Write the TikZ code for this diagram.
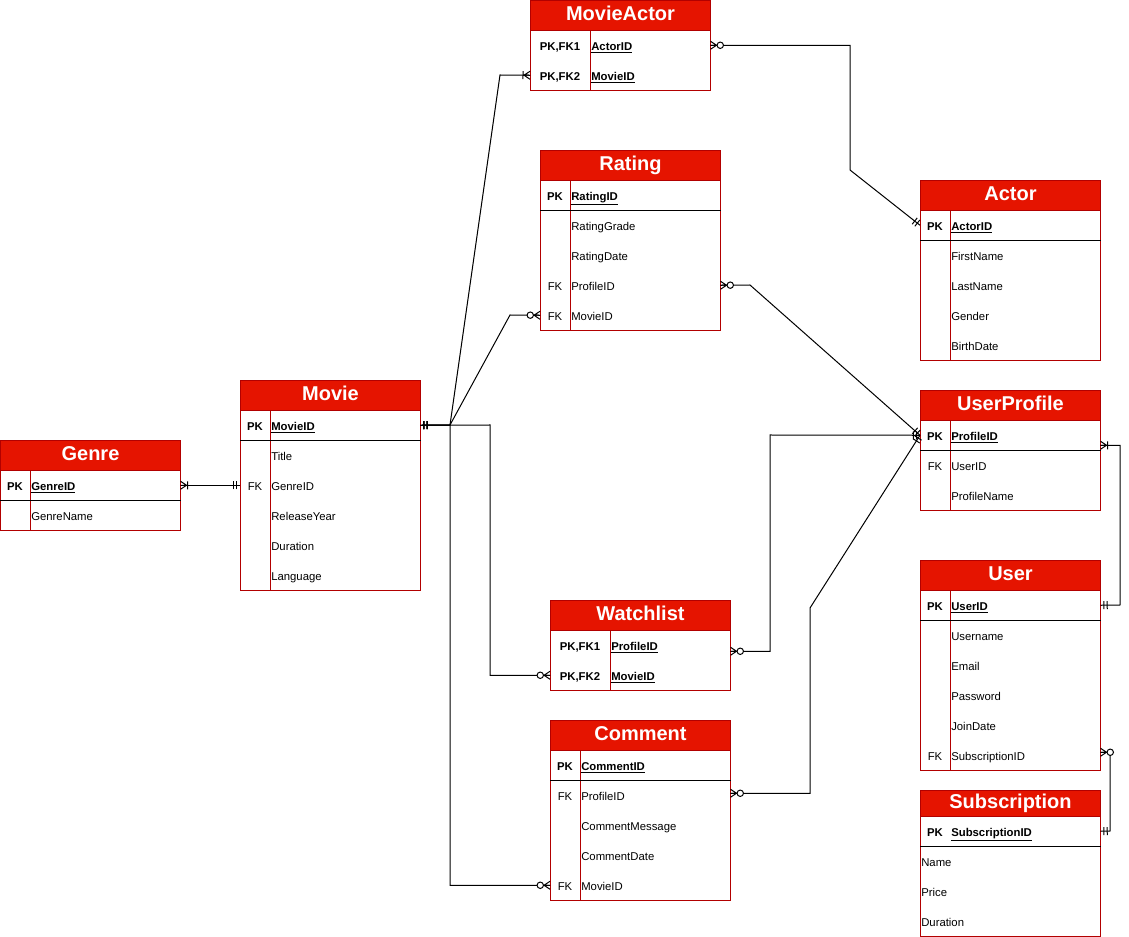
\documentclass[tikz,border=0pt]{standalone}
\usepackage{fontspec}
\setmainfont{Liberation Sans}
\usetikzlibrary{decorations.markings}

\definecolor{erred}{HTML}{E51400}
\definecolor{erborder}{HTML}{B20000}

% relationship end symbols, entity side at the origin, line running along +x
\newcommand\ermandone{\draw[line width=0.75pt] (2.5pt,-3pt)--(2.5pt,3pt) (5pt,-3pt)--(5pt,3pt);}
\newcommand\eronemany{\draw[line width=0.75pt] (0pt,-3pt)--(4.5pt,0pt)--(0pt,3pt) (0pt,0pt)--(4.5pt,0pt) (5.25pt,-3pt)--(5.25pt,3pt);}
\newcommand\erzeromany{\draw[line width=0.75pt] (0pt,-3pt)--(4.5pt,0pt)--(0pt,3pt) (0pt,0pt)--(4.5pt,0pt);
  \draw[line width=0.75pt,fill=white] (7.3pt,0pt) circle (2.4pt);}

\tikzset{
  x=0.75pt, y=-0.75pt,
  tbl/.style={draw=erborder, line width=0.75pt, fill=white, inner sep=0pt,
    minimum width=135pt, anchor=north west},
  hdr/.style={draw=erborder, line width=0.75pt, fill=erred, text=white, inner sep=0pt,
    font=\bfseries\fontsize{15}{18}\selectfont, text height=10.7pt, text depth=3.2pt,
    minimum width=135pt, anchor=north west},
  rowbox/.style={inner sep=0pt, minimum width=135pt, minimum height=22.5pt, anchor=north west},
  keytxt/.style={inner sep=0pt, font=\fontsize{8.5}{10}\selectfont, text height=6.1pt, text depth=0pt},
  fldtxt/.style={keytxt, anchor=west},
  sep/.style={draw=black, line width=0.75pt},
  divider/.style={draw=erborder, line width=0.75pt},
  erline/.style={draw=black, line width=0.75pt},
  mark start/.style={postaction={decorate,decoration={markings,
      mark=at position 0 with {#1}}}},
  mark end/.style={postaction={decorate,decoration={markings,
      mark=at position 1 with {\begin{scope}[xscale=-1]#1\end{scope}}}}},
}

% table frame: name, x, y, total height, header height, title
\newcommand\erframe[6]{%
  \node[tbl, minimum height=#4*0.75pt] (#1) at (#2,#3) {};
  \node[hdr, minimum height=#5*0.75pt] (#1-head) at (#2,#3) {#6};
}
% table row: table, row id, x, top y, key column width, key text, field text
\newcommand\errow[7]{%
  \node[rowbox] (#1-#2) at (#3,#4) {};
  \node[keytxt] (#1-#2-key) at ({#3+#5/2},{#4+16}) {#6};
  \node[fldtxt] (#1-#2-name) at ({#3+#5+1},{#4+16}) {#7};
}
\newcommand\pkey{\textbf{PK}}
\newcommand\pkfield[1]{\underline{\textbf{#1}}}

\begin{document}
\begin{tikzpicture}
\useasboundingbox (0,0) rectangle (1129,937);

% ---------- Genre ----------
\erframe{genre}{0}{440}{90}{30}{Genre}
\errow{genre}{pk}{0}{470}{30}{\pkey}{\pkfield{GenreID}}
\errow{genre}{r1}{0}{500}{30}{}{GenreName}
\draw[divider] ([xshift=22.5pt]genre-head.south west) -- ([xshift=22.5pt]genre.south west);
\draw[sep] (genre-pk.south west) -- (genre-pk.south east);

% ---------- Movie ----------
\erframe{movie}{240}{380}{210}{30}{Movie}
\errow{movie}{pk}{240}{410}{30}{\pkey}{\pkfield{MovieID}}
\errow{movie}{r1}{240}{440}{30}{}{Title}
\errow{movie}{r2}{240}{470}{30}{FK}{GenreID}
\errow{movie}{r3}{240}{500}{30}{}{ReleaseYear}
\errow{movie}{r4}{240}{530}{30}{}{Duration}
\errow{movie}{r5}{240}{560}{30}{}{Language}
\draw[divider] ([xshift=22.5pt]movie-head.south west) -- ([xshift=22.5pt]movie.south west);
\draw[sep] (movie-pk.south west) -- (movie-pk.south east);

% ---------- MovieActor ----------
\erframe{ma}{530}{0}{90}{30}{MovieActor}
\errow{ma}{r1}{530}{30}{60}{\textbf{PK,FK1}}{\pkfield{ActorID}}
\errow{ma}{r2}{530}{60}{60}{\textbf{PK,FK2}}{\pkfield{MovieID}}
\draw[divider] ([xshift=45pt]ma-head.south west) -- ([xshift=45pt]ma.south west);

% ---------- Rating ----------
\erframe{rating}{540}{150}{180}{30}{Rating}
\errow{rating}{pk}{540}{180}{30}{\pkey}{\pkfield{RatingID}}
\errow{rating}{r1}{540}{210}{30}{}{RatingGrade}
\errow{rating}{r2}{540}{240}{30}{}{RatingDate}
\errow{rating}{r3}{540}{270}{30}{FK}{ProfileID}
\errow{rating}{r4}{540}{300}{30}{FK}{MovieID}
\draw[divider] ([xshift=22.5pt]rating-head.south west) -- ([xshift=22.5pt]rating.south west);
\draw[sep] (rating-pk.south west) -- (rating-pk.south east);

% ---------- Actor ----------
\erframe{actor}{920}{180}{180}{30}{Actor}
\errow{actor}{pk}{920}{210}{30}{\pkey}{\pkfield{ActorID}}
\errow{actor}{r1}{920}{240}{30}{}{FirstName}
\errow{actor}{r2}{920}{270}{30}{}{LastName}
\errow{actor}{r3}{920}{300}{30}{}{Gender}
\errow{actor}{r4}{920}{330}{30}{}{BirthDate}
\draw[divider] ([xshift=22.5pt]actor-head.south west) -- ([xshift=22.5pt]actor.south west);
\draw[sep] (actor-pk.south west) -- (actor-pk.south east);

% ---------- UserProfile ----------
\erframe{up}{920}{390}{120}{30}{UserProfile}
\errow{up}{pk}{920}{420}{30}{\pkey}{\pkfield{ProfileID}}
\errow{up}{r1}{920}{450}{30}{FK}{UserID}
\errow{up}{r2}{920}{480}{30}{}{ProfileName}
\draw[divider] ([xshift=22.5pt]up-head.south west) -- ([xshift=22.5pt]up.south west);
\draw[sep] (up-pk.south west) -- (up-pk.south east);

% ---------- User ----------
\erframe{user}{920}{560}{210}{30}{User}
\errow{user}{pk}{920}{590}{30}{\pkey}{\pkfield{UserID}}
\errow{user}{r1}{920}{620}{30}{}{Username}
\errow{user}{r2}{920}{650}{30}{}{Email}
\errow{user}{r3}{920}{680}{30}{}{Password}
\errow{user}{r4}{920}{710}{30}{}{JoinDate}
\errow{user}{r5}{920}{740}{30}{FK}{SubscriptionID}
\draw[divider] ([xshift=22.5pt]user-head.south west) -- ([xshift=22.5pt]user.south west);
\draw[sep] (user-pk.south west) -- (user-pk.south east);

% ---------- Subscription ----------
\erframe{sub}{920}{790}{146}{26}{Subscription}
\errow{sub}{pk}{920}{816}{30}{\pkey}{\pkfield{SubscriptionID}}
\errow{sub}{r1}{920}{846}{0}{}{Name}
\errow{sub}{r2}{920}{876}{0}{}{Price}
\errow{sub}{r3}{920}{906}{0}{}{Duration}
\draw[sep] (sub-pk.south west) -- (sub-pk.south east);

% ---------- Watchlist ----------
\erframe{wl}{550}{600}{90}{30}{Watchlist}
\errow{wl}{r1}{550}{630}{60}{\textbf{PK,FK1}}{\pkfield{ProfileID}}
\errow{wl}{r2}{550}{660}{60}{\textbf{PK,FK2}}{\pkfield{MovieID}}
\draw[divider] ([xshift=45pt]wl-head.south west) -- ([xshift=45pt]wl.south west);

% ---------- Comment ----------
\erframe{cm}{550}{720}{180}{30}{Comment}
\errow{cm}{pk}{550}{750}{30}{\pkey}{\pkfield{CommentID}}
\errow{cm}{r1}{550}{780}{30}{FK}{ProfileID}
\errow{cm}{r2}{550}{810}{30}{}{CommentMessage}
\errow{cm}{r3}{550}{840}{30}{}{CommentDate}
\errow{cm}{r4}{550}{870}{30}{FK}{MovieID}
\draw[divider] ([xshift=22.5pt]cm-head.south west) -- ([xshift=22.5pt]cm.south west);
\draw[sep] (cm-pk.south west) -- (cm-pk.south east);

% ---------- relationships ----------
\coordinate (mj) at (450,425);

\draw[erline, mark start=\eronemany, mark end=\ermandone] (genre-pk.east) -- (movie-r2.west);

\draw[erline, mark start=\ermandone, mark end=\eronemany] (movie-pk.east) -- (mj) -- (500,75) -- (ma-r2.west);
\draw[erline, mark start=\ermandone, mark end=\erzeromany] (movie-pk.east) -- (mj) -- (510,315) -- (rating-r4.west);
\draw[erline, mark start=\ermandone, mark end=\erzeromany] (movie-pk.east) -- (490,425) |- (wl-r2.west);
\draw[erline, mark start=\ermandone, mark end=\erzeromany] (movie-pk.east) -- (mj) |- (cm-r4.west);

\draw[erline, mark start=\erzeromany, mark end=\ermandone] (ma-r1.east) -| (850,170) -- (actor-pk.west);

\draw[erline, mark start=\erzeromany, mark end=\ermandone] (rating-r3.east) -- (750,285) -- (up-pk.west);
\draw[erline, mark start=\erzeromany, mark end=\ermandone] ([yshift=-4.5pt]wl-r1.east) -| (770,435) -- (up-pk.west);
\draw[erline, mark start=\erzeromany, mark end=\ermandone] ([yshift=1.5pt]cm-r1.east) -| (810,608) -- (up-pk.west);

\draw[erline, mark start=\eronemany, mark end=\ermandone] ([yshift=-7.5pt]up-pk.east) -| (1120,605) -- (user-pk.east);
\draw[erline, mark start=\erzeromany, mark end=\ermandone] ([yshift=2.25pt]user-r5.east) -| (1110,831) -- (sub-pk.east);

\end{tikzpicture}
\end{document}
